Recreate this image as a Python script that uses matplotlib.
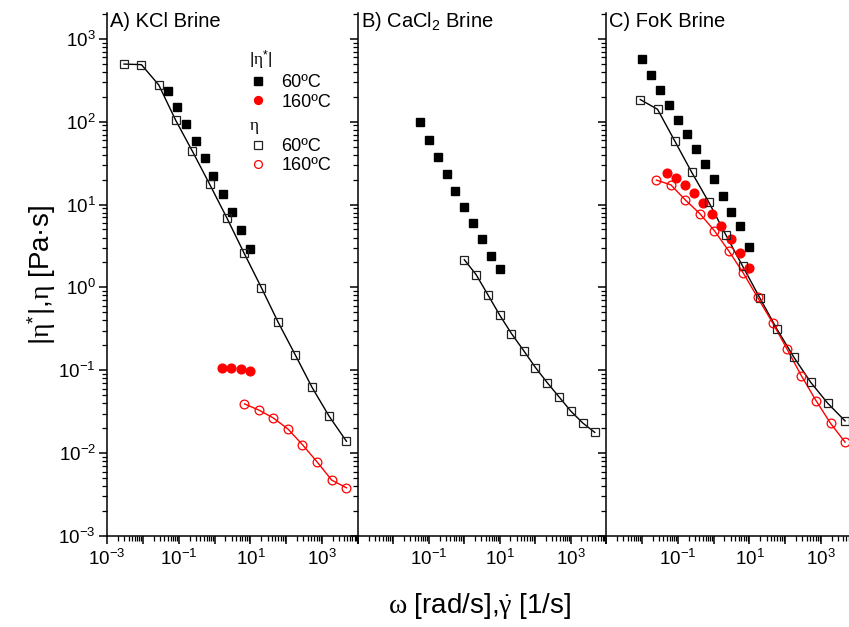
import math
import matplotlib
matplotlib.use("Agg")
import matplotlib.pyplot as plt
from matplotlib.ticker import LogLocator, FuncFormatter, NullFormatter

plt.rcParams['font.family'] = ['Liberation Sans', 'DejaVu Sans']
plt.rcParams['mathtext.fontset'] = 'custom'
plt.rcParams['mathtext.rm'] = 'Liberation Sans'
plt.rcParams['mathtext.it'] = 'Liberation Serif'
plt.rcParams['mathtext.cal'] = 'Liberation Serif'
plt.rcParams['mathtext.sf'] = 'Liberation Sans'

# A) KCl brine
kcl_cx_60 = [0.0501, 0.0891, 0.158, 0.295, 0.525, 0.933, 1.70, 3.02, 5.37, 9.77]
kcl_cy_60 = [233, 149, 93, 58, 36, 22.2, 13.4, 8.1, 4.9, 2.93]
kcl_cx_160 = [1.66, 2.95, 5.36, 9.75]
kcl_cy_160 = [0.107, 0.106, 0.1025, 0.097]
kcl_sx_60 = [0.00298, 0.00912, 0.0277, 0.0824, 0.241, 0.733, 2.22, 6.64, 20.3, 58.9, 180, 522, 1556, 4764]
kcl_sy_60 = [496, 488, 278, 104, 44, 17.5, 6.85, 2.6, 0.99, 0.382, 0.152, 0.0623, 0.028, 0.0139]
kcl_sx_160 = [6.81, 17.4, 43.9, 112, 282, 721, 1854, 4764]
kcl_sy_160 = [0.0393, 0.033, 0.0265, 0.0195, 0.01265, 0.00785, 0.00472, 0.00382]

# B) CaCl2 brine
cacl_cx_60 = [0.0562, 0.1, 0.178, 0.316, 0.562, 1.0, 1.78, 3.16, 5.62, 10.0]
cacl_cy_60 = [98.9, 60, 37.2, 23.3, 14.5, 9.27, 6.0, 3.86, 2.41, 1.67]
cacl_sx_60 = [1.0, 2.15, 4.64, 10.0, 21.5, 47.3, 102, 220, 473, 1019, 2239, 4819]
cacl_sy_60 = [2.16, 1.43, 0.815, 0.463, 0.277, 0.173, 0.108, 0.0708, 0.0477, 0.0321, 0.0230, 0.0178]

# C) FoK brine
fok_cx_60 = [0.01, 0.0178, 0.0316, 0.0562, 0.1, 0.178, 0.316, 0.562, 1.0, 1.78, 3.16, 5.62, 10.0]
fok_cy_60 = [570, 362, 238, 158, 106, 70.4, 46.9, 31.0, 20.1, 12.8, 8.09, 5.54, 3.07]
fok_cx_160 = [0.0488, 0.0869, 0.158, 0.281, 0.513, 0.914, 1.66, 3.01, 5.37, 9.57]
fok_cy_160 = [23.9, 20.8, 17.3, 13.7, 10.5, 7.7, 5.5, 3.87, 2.62, 1.73]
fok_sx_60 = [0.00902, 0.0274, 0.0815, 0.247, 0.735, 2.19, 6.50, 19.4, 57.5, 171, 511, 1517, 4634]
fok_sy_60 = [185, 141, 59.2, 24.4, 10.7, 4.32, 1.80, 0.75, 0.318, 0.145, 0.0716, 0.0401, 0.0245]
fok_sx_160 = [0.0256, 0.0643, 0.162, 0.413, 1.06, 2.65, 6.68, 16.9, 44.6, 112, 281, 721, 1841, 4634]
fok_sy_160 = [19.7, 17.3, 11.4, 7.78, 4.82, 2.76, 1.50, 0.757, 0.372, 0.180, 0.0859, 0.0430, 0.0228, 0.0136]

titles = ['A) KCl Brine', r'B) CaCl$_2$ Brine', 'C) FoK Brine']
temp_labels = ['60ºC', '160ºC']

W, H = 849, 627
fig = plt.figure(figsize=(W / 100, H / 100), dpi=100)
b = (H - 536) / H
h = (536 - 13) / H
axA = fig.add_axes([107 / W, b, 251 / W, h])
axB = fig.add_axes([358 / W, b, 248 / W, h])
axC = fig.add_axes([606 / W, b, 251 / W, h])
axes = [axA, axB, axC]

ms = 5.8
def filled_sq(ax, x, y):
    return ax.plot(x, y, 's', color='black', ms=ms, ls='none', zorder=3)[0]

def filled_ci(ax, x, y):
    return ax.plot(x, y, 'o', color='#ff0000', ms=6.3, ls='none', zorder=3)[0]

def open_sq(ax, x, y):
    ax.plot(x, y, '-', color='black', lw=1.0, zorder=2)
    return ax.plot(x, y, 's', mfc='none', mec='#222222', mew=0.9, ms=ms, ls='none', zorder=3)[0]

def open_ci(ax, x, y):
    ax.plot(x, y, '-', color='#ff0000', lw=1.0, zorder=2)
    return ax.plot(x, y, 'o', mfc='none', mec='#ff0000', mew=0.9, ms=6.3, ls='none', zorder=3)[0]

h1 = filled_sq(axA, kcl_cx_60, kcl_cy_60)
h2 = filled_ci(axA, kcl_cx_160, kcl_cy_160)
h3 = open_sq(axA, kcl_sx_60, kcl_sy_60)
h4 = open_ci(axA, kcl_sx_160, kcl_sy_160)

filled_sq(axB, cacl_cx_60, cacl_cy_60)
open_sq(axB, cacl_sx_60, cacl_sy_60)

filled_sq(axC, fok_cx_60, fok_cy_60)
filled_ci(axC, fok_cx_160, fok_cy_160)
open_sq(axC, fok_sx_60, fok_sy_60)
open_ci(axC, fok_sx_160, fok_sy_160)

def xfmt_all(v, pos):
    e = int(round(math.log10(v)))
    if e % 2 != 0:
        return r'$\mathdefault{10^{%d}}$' % e
    return ''

def xfmt_skip(v, pos):
    e = int(round(math.log10(v)))
    if e % 2 != 0 and e != -3:
        return r'$\mathdefault{10^{%d}}$' % e
    return ''

for i, ax in enumerate(axes):
    ax.set_xscale('log')
    ax.set_yscale('log')
    ax.set_xlim(1e-3, 1e4)
    ax.set_ylim(1e-3, 2050)
    ax.spines['top'].set_visible(False)
    ax.spines['right'].set_visible(False)
    for s in ['left', 'bottom']:
        ax.spines[s].set_linewidth(1.1)
    ax.xaxis.set_major_locator(LogLocator(base=10, numticks=20))
    ax.xaxis.set_minor_locator(LogLocator(base=10, subs=range(2, 10), numticks=20))
    ax.yaxis.set_major_locator(LogLocator(base=10, numticks=20))
    ax.yaxis.set_minor_locator(LogLocator(base=10, subs=range(2, 10), numticks=20))
    ax.xaxis.set_minor_formatter(NullFormatter())
    ax.yaxis.set_minor_formatter(NullFormatter())
    ax.xaxis.set_major_formatter(FuncFormatter(xfmt_all if i == 0 else xfmt_skip))
    ax.tick_params(which='major', direction='out', length=6, width=1.1, labelsize=13.5)
    ax.tick_params(which='minor', direction='out', length=3.5, width=0.9)
    ax.tick_params(axis='y', which='both', left=True, right=False, labelleft=(i == 0), pad=2)
    ax.tick_params(axis='x', which='both', top=False)
    ax.text(0.012, 0.983, titles[i], transform=ax.transAxes, ha='left', va='center', fontsize=14.5)

leg_kw = dict(loc='upper left', frameon=False, fontsize=13, title_fontsize=12.5,
              handlelength=1.0, handletextpad=0.8, labelspacing=0.12, borderpad=0,
              borderaxespad=0, alignment='left', markerscale=0.9)
leg1 = axA.legend([h1, h2], temp_labels, title=r'$|\mathcal{\eta}^{*}|$',
                  bbox_to_anchor=(0.565, 0.931), **leg_kw)
axA.add_artist(leg1)
axA.legend([h3, h4], temp_labels, title=r'$\mathcal{\eta}$',
           bbox_to_anchor=(0.565, 0.799), **leg_kw)

fig.text(42 / W, (H - 275) / H, r'$|\mathcal{\eta}^{*}|$,$\mathcal{\eta}$ [Pa·s]', rotation=90,
         ha='center', va='center', fontsize=20)
fig.text(480 / W, (H - 606) / H, r'$\mathcal{\omega}$ [rad/s],$\dot{\gamma}$ [1/s]',
         ha='center', va='center', fontsize=20)

fig.savefig('out.png', dpi=100)
